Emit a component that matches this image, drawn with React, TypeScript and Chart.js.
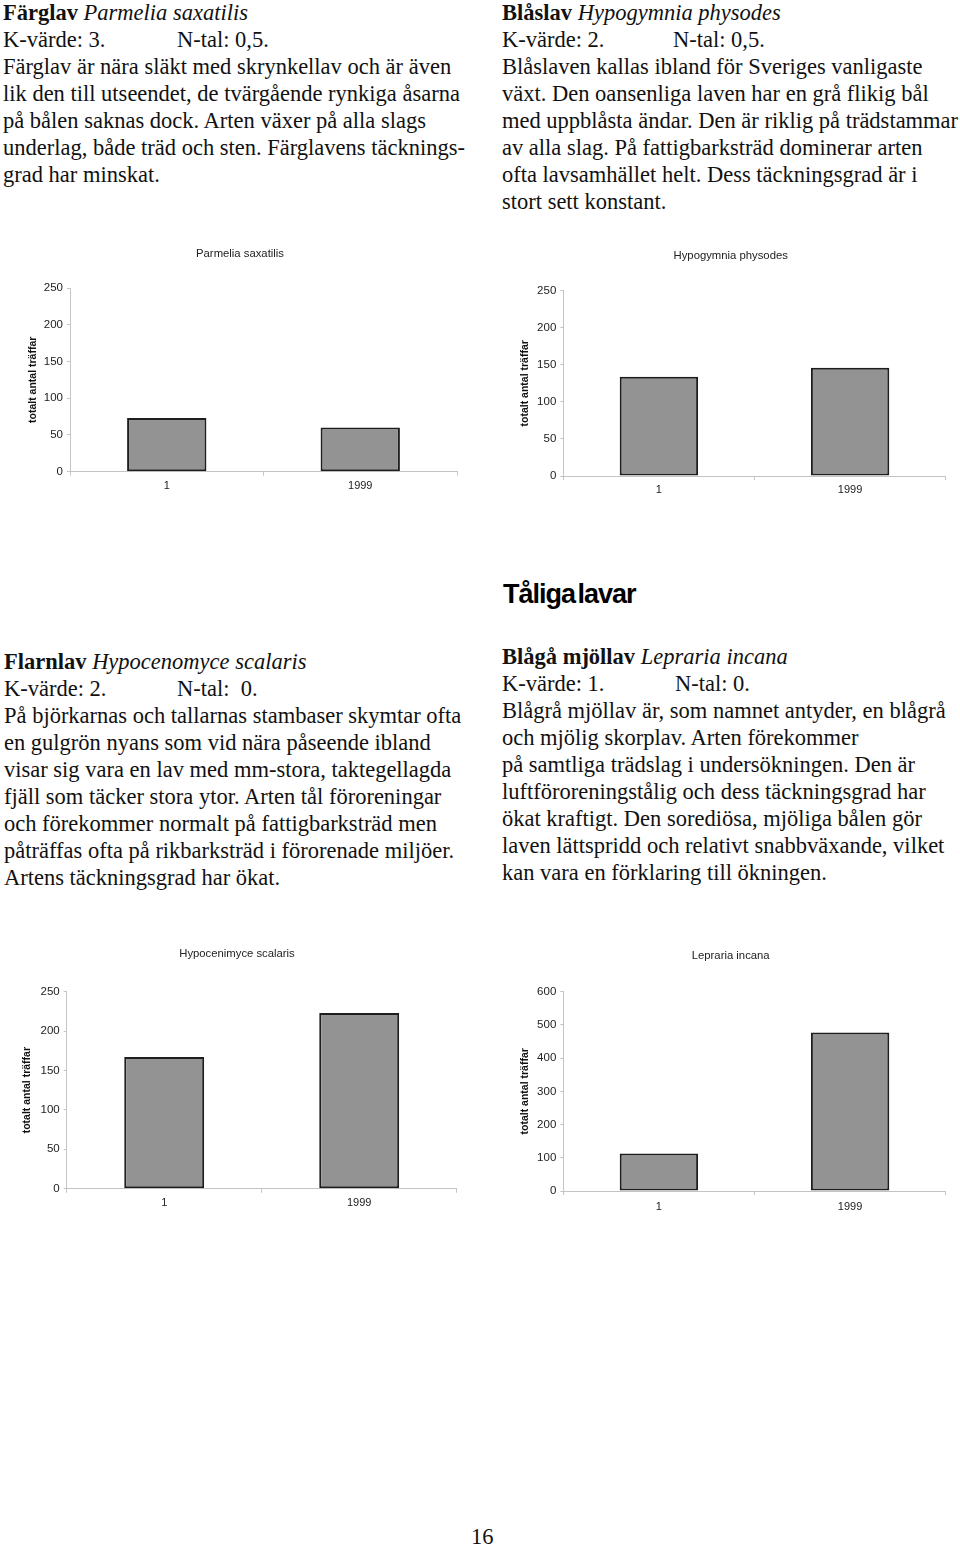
import React, { useEffect, useRef } from "react";
import { Chart, registerables } from "chart.js";

Chart.register(...registerables);

// ---------- data ----------
const years = ["1", "1999"];
const parmeliaValues = [73, 60];
const hypogymniaValues = [134, 146];
const hypocenomyceValues = [167, 223];
const leprariaValues = [113, 477];
const chartTitles = ["Parmelia saxatilis", "Hypogymnia physodes", "Hypocenimyce scalaris", "Lepraria incana"];
const yAxisTitle = "totalt antal träffar";
const yMaxes = [250, 250, 250, 600];
const ySteps = [50, 50, 50, 100];

const SANS = '"Liberation Sans", Arial, sans-serif';
const SERIF = '"Liberation Serif", "Times New Roman", serif';

type Box = { left: number; top: number; width: number; height: number };
type Area = { left: number; top: number; right: number; bottom: number };

type BarProps = {
  title: string;
  values: number[];
  yMax: number;
  yStep: number;
  box: Box;
  area: Area;
  titleX: number;
  titleY: number;
  yTitleX: number;
  xLabelY: number;
};

function BarChart(p: BarProps) {
  const ref = useRef<HTMLCanvasElement | null>(null);
  useEffect(() => {
    if (!ref.current) return;
    const { box, area } = p;
    const padR = box.left + box.width - area.right;
    const padL = 2 * (p.titleX - box.left) - box.width + padR;
    const yWidth = area.left - box.left - padL;
    const xHeight = box.top + box.height - area.bottom;
    const titleSize = 11.3;
    const titleLH = titleSize * 1.2;
    const titlePadTop = p.titleY - box.top - titleLH / 2;
    const titlePadBottom = area.top - box.top - titlePadTop - titleLH;
    const yTitleLH = 10.5 * 1.2;
    const yTitlePad = p.yTitleX - box.left - padL - yTitleLH / 2;
    const xLabelPad = p.xLabelY - area.bottom - 4 - 6.6;
    const chart = new Chart(ref.current, {
      type: "bar",
      data: {
        labels: years,
        datasets: [
          {
            data: p.values,
            backgroundColor: "#939393",
            borderColor: "#1e1e1e",
            borderWidth: 2,
            borderSkipped: false,
            barPercentage: 0.41,
            categoryPercentage: 1.0,
          },
        ],
      },
      options: {
        animation: false,
        responsive: false,
        maintainAspectRatio: false,
        devicePixelRatio: 1,
        layout: { padding: { left: padL, right: padR, top: 0, bottom: 0 } },
        plugins: {
          legend: { display: false },
          tooltip: { enabled: false },
          title: {
            display: true,
            text: p.title,
            color: "#222",
            font: { family: SANS, size: titleSize, weight: "normal" },
            padding: { top: titlePadTop, bottom: titlePadBottom },
          },
        },
        scales: {
          x: {
            type: "category",
            offset: true,
            grid: {
              display: true,
              offset: true,
              drawOnChartArea: false,
              drawTicks: true,
              tickLength: 4,
              color: "#c4c4c4",
            },
            border: { display: true, color: "#c4c4c4", width: 1 },
            ticks: { color: "#222", font: { family: SANS, size: 11 }, padding: xLabelPad, maxRotation: 0 },
            afterFit: (s: any) => {
              s.height = xHeight;
              s.paddingLeft = 0;
              s.paddingRight = 0;
            },
          },
          y: {
            type: "linear",
            min: 0,
            max: p.yMax,
            ticks: { stepSize: p.yStep, color: "#222", font: { family: SANS, size: 11.5 }, padding: 4 },
            grid: { drawOnChartArea: false, drawTicks: true, tickLength: 3, color: "#c4c4c4" },
            border: { display: true, color: "#c4c4c4", width: 1 },
            title: {
              display: true,
              text: yAxisTitle,
              color: "#111",
              font: { family: SANS, size: 10.5, weight: "bold" },
              padding: { top: yTitlePad, bottom: 0 },
            },
            afterFit: (s: any) => {
              s.width = yWidth;
              s.paddingTop = 0;
              s.paddingBottom = 0;
            },
          },
        },
      } as any,
    });
    return () => chart.destroy();
  }, []);
  return (
    <canvas
      ref={ref}
      width={p.box.width}
      height={p.box.height}
      style={{ position: "absolute", left: p.box.left, top: p.box.top, width: p.box.width, height: p.box.height }}
    />
  );
}

type Block = { x: number; y: number; lh: number; head: [string, string]; k: string; n: string; nOffset: number; lines: string[] };

const blockA: Block = {
  x: 3, y: -0.6, lh: 27,
  head: ["Färglav", "Parmelia saxatilis"],
  k: "K-värde: 3.", n: "N-tal: 0,5.", nOffset: 174,
  lines: [
    "Färglav är nära släkt med skrynkellav och är även",
    "lik den till utseendet, de tvärgående rynkiga åsarna",
    "på bålen saknas dock. Arten växer på alla slags",
    "underlag, både träd och sten. Färglavens täcknings-",
    "grad har minskat.",
  ],
};
const blockB: Block = {
  x: 502, y: -0.6, lh: 27,
  head: ["Blåslav", "Hypogymnia physodes"],
  k: "K-värde: 2.", n: "N-tal: 0,5.", nOffset: 171,
  lines: [
    "Blåslaven kallas ibland för Sveriges vanligaste",
    "växt. Den oansenliga laven har en grå flikig bål",
    "med uppblåsta ändar. Den är riklig på trädstammar",
    "av alla slag. På fattigbarksträd dominerar arten",
    "ofta lavsamhället helt. Dess täckningsgrad är i",
    "stort sett konstant.",
  ],
};
const blockC: Block = {
  x: 4, y: 647.5, lh: 27,
  head: ["Flarnlav", "Hypocenomyce scalaris"],
  k: "K-värde: 2.", n: "N-tal:  0.", nOffset: 173,
  lines: [
    "På björkarnas och tallarnas stambaser skymtar ofta",
    "en gulgrön nyans som vid nära påseende ibland",
    "visar sig vara en lav med mm-stora, taktegellagda",
    "fjäll som täcker stora ytor. Arten tål föroreningar",
    "och förekommer normalt på fattigbarksträd men",
    "påträffas ofta på rikbarksträd i förorenade miljöer.",
    "Artens täckningsgrad har ökat.",
  ],
};
const blockD: Block = {
  x: 502, y: 642.5, lh: 27,
  head: ["Blågå mjöllav", "Lepraria incana"],
  k: "K-värde: 1.", n: "N-tal: 0.", nOffset: 173,
  lines: [
    "Blågrå mjöllav är, som namnet antyder, en blågrå",
    "och mjölig skorplav. Arten förekommer",
    "på samtliga trädslag i undersökningen. Den är",
    "luftföroreningstålig och dess täckningsgrad har",
    "ökat kraftigt. Den sorediösa, mjöliga bålen gör",
    "laven lättspridd och relativt snabbväxande, vilket",
    "kan vara en förklaring till ökningen.",
  ],
};

function TextBlock({ b }: { b: Block }) {
  const lineStyle: React.CSSProperties = { height: b.lh, lineHeight: `${b.lh}px`, whiteSpace: "pre", position: "relative" };
  return (
    <div style={{ position: "absolute", left: b.x, top: b.y, fontFamily: SERIF, fontSize: 22.5, color: "#111" }}>
      <div style={lineStyle}>
        <b>{b.head[0]}</b> <i>{b.head[1]}</i>
      </div>
      <div style={lineStyle}>
        <span>{b.k}</span>
        <span style={{ position: "absolute", left: b.nOffset, top: 0 }}>{b.n}</span>
      </div>
      {b.lines.map((l, i) => (
        <div key={i} style={lineStyle}>
          {l}
        </div>
      ))}
    </div>
  );
}

export default function App() {
  return (
    <div style={{ position: "absolute", left: 0, top: 0, width: 960, height: 1546, background: "#fff", overflow: "hidden" }}>
      <TextBlock b={blockA} />
      <TextBlock b={blockB} />
      <BarChart
        title={chartTitles[0]}
        values={parmeliaValues}
        yMax={yMaxes[0]}
        yStep={ySteps[0]}
        box={{ left: 0, top: 240, width: 480, height: 260 }}
        area={{ left: 70, top: 288, right: 457, bottom: 471.7 }}
        titleX={240}
        titleY={254}
        yTitleX={33}
        xLabelY={486}
      />
      <BarChart
        title={chartTitles[1]}
        values={hypogymniaValues}
        yMax={yMaxes[1]}
        yStep={ySteps[1]}
        box={{ left: 490, top: 240, width: 470, height: 260 }}
        area={{ left: 563.3, top: 290.7, right: 945.7, bottom: 476 }}
        titleX={730.7}
        titleY={255.7}
        yTitleX={525}
        xLabelY={490}
      />
      <div
        style={{
          position: "absolute",
          left: 503,
          top: 577,
          fontFamily: SANS,
          fontWeight: "bold",
          fontSize: 27,
          letterSpacing: -1,
          wordSpacing: -4,
          lineHeight: "34px",
          color: "#000",
          whiteSpace: "pre",
        }}
      >
        Tåliga lavar
      </div>
      <TextBlock b={blockC} />
      <TextBlock b={blockD} />
      <BarChart
        title={chartTitles[2]}
        values={hypocenomyceValues}
        yMax={yMaxes[2]}
        yStep={ySteps[2]}
        box={{ left: 0, top: 940, width: 480, height: 280 }}
        area={{ left: 66.7, top: 991.7, right: 456.7, bottom: 1188.7 }}
        titleX={237}
        titleY={954}
        yTitleX={26.7}
        xLabelY={1203}
      />
      <BarChart
        title={chartTitles[3]}
        values={leprariaValues}
        yMax={yMaxes[3]}
        yStep={ySteps[3]}
        box={{ left: 490, top: 940, width: 470, height: 280 }}
        area={{ left: 563.3, top: 991.7, right: 945.7, bottom: 1191 }}
        titleX={730.7}
        titleY={955.7}
        yTitleX={525}
        xLabelY={1206.7}
      />
      <div style={{ position: "absolute", left: 471, top: 1525, fontFamily: SERIF, fontSize: 22.5, lineHeight: "24px", color: "#111" }}>
        16
      </div>
    </div>
  );
}
